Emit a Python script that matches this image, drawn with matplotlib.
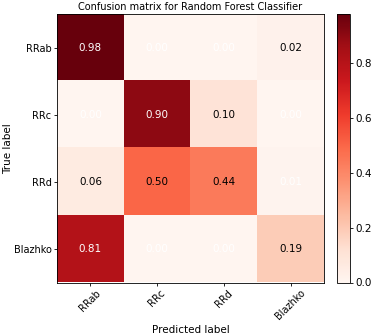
import numpy as np
import matplotlib
matplotlib.use("Agg")
import matplotlib.pyplot as plt

classes = ["RRab", "RRc", "RRd", "Blazhko"]
cm = np.array([
    [0.98, 0.00, 0.00, 0.02],
    [0.00, 0.90, 0.10, 0.00],
    [0.06, 0.50, 0.44, 0.01],
    [0.81, 0.00, 0.00, 0.19],
])
# text colours as they appear in the reference
white_cells = [(0, 0), (0, 1), (0, 2), (1, 0), (1, 1), (1, 3),
               (2, 3), (3, 0), (3, 1), (3, 2)]

fig = plt.figure(figsize=(3.74, 3.35), dpi=100)
ax = fig.add_axes([57 / 374, 1 - 282.5 / 335, 267 / 374, 268.5 / 335])
cax = fig.add_axes([337 / 374, 1 - 282.5 / 335, 13 / 374, 268.5 / 335])

im = ax.imshow(cm, interpolation="nearest", cmap=plt.cm.Reds, aspect="auto")
ax.set_title("Confusion matrix for Random Forest Classifier", fontsize=7, pad=3)
cb = fig.colorbar(im, cax=cax)
cb.set_ticks([0.0, 0.2, 0.4, 0.6, 0.8])
cb.ax.tick_params(labelsize=7.5, length=2.5, width=0.6, pad=1.5)
cb.outline.set_linewidth(0.6)

ticks = np.arange(len(classes))
ax.set_xticks(ticks)
ax.set_xticklabels(classes, rotation=45, fontsize=7)
ax.set_yticks(ticks)
ax.set_yticklabels(classes, fontsize=7)
ax.tick_params(length=2.5, width=0.6, pad=1.5)
for s in ax.spines.values():
    s.set_linewidth(0.6)

for i in range(cm.shape[0]):
    for j in range(cm.shape[1]):
        color = "white" if (i, j) in white_cells else "black"
        ax.text(j, i, f"{cm[i, j]:.2f}", ha="center", va="center",
                color=color, fontsize=7.5)

ax.set_ylabel("True label", fontsize=7.5)
ax.yaxis.set_label_coords(-0.165, 0.5)
ax.set_xlabel("Predicted label", fontsize=7.5, labelpad=2)

fig.savefig("out.png", dpi=100)
